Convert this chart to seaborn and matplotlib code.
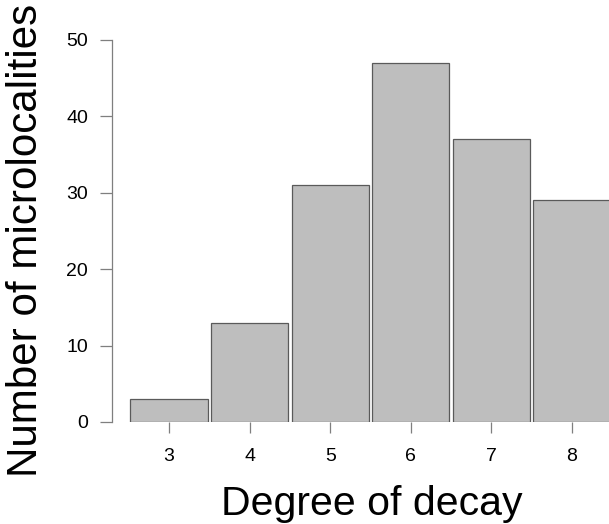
"""
plot.py — bar chart: microlocalities by degree of decay
"""

import matplotlib
matplotlib.use("Agg")
import matplotlib.pyplot as plt
import pandas as pd
import seaborn as sns

decay_degree = ["3", "4", "5", "6", "7", "8"]
n_localities = [3, 13, 31, 47, 37, 29]
y_ticks = [0, 10, 20, 30, 40, 50]

BAR_COLOR = "#bebebe"
EDGE_COLOR = "#5a5a5a"
AXIS_GRAY = "#7f7f7f"

sns.set_style("white")
plt.rcParams["font.family"] = ["Liberation Sans", "DejaVu Sans"]

df = pd.DataFrame({"degree": decay_degree, "count": n_localities})

fig = plt.figure(figsize=(6.09, 5.24), dpi=100)
# axes placed in pixels: left spine at x=112, y range 0..50 from y=422 to y=40
W, H = 609, 524
ax = fig.add_axes([112 / W, (H - 422) / H, (609 - 112) / W, (422 - 40) / H])

sns.barplot(data=df, x="degree", y="count", ax=ax, color=BAR_COLOR,
            width=0.96, edgecolor=EDGE_COLOR, linewidth=0.9, saturation=1)

ax.set_xlim(-0.707, 5.459)
ax.set_ylim(0, 50)
for side in ["top", "right", "bottom"]:
    ax.spines[side].set_visible(False)
ax.spines["left"].set_color(AXIS_GRAY)
ax.spines["left"].set_linewidth(0.9)
ax.spines["left"].set_bounds(0, 50)

ax.set_yticks(y_ticks)
ax.set_yticklabels([str(v) for v in y_ticks])
ax.tick_params(axis="y", direction="out", length=8.6, width=0.9,
               color=AXIS_GRAY, labelsize=14, pad=8.6, left=True,
               labelcolor="black")
ax.tick_params(axis="x", direction="out", length=8, width=0.9,
               color=AXIS_GRAY, labelsize=14, pad=11, bottom=True,
               labelcolor="black")

ax.set_xlabel("Degree of decay", fontsize=29.5, color="black")
ax.set_ylabel("Number of microlocalities", fontsize=30.3, color="black")
ax.xaxis.set_label_coords(0.523, -0.165)
ax.yaxis.set_label_coords(-0.132, 0.474)

plt.savefig("out.png", dpi=100)
plt.close()
